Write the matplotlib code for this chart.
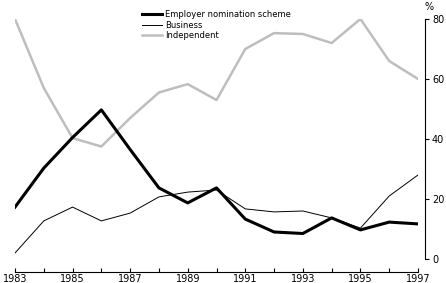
import matplotlib.pyplot as plt
import numpy as np

years = np.arange(1983, 1998)
employer = [17.3, 30.3, 40.5, 49.7, 36.5, 23.7, 18.7, 23.7, 13.3, 9.0, 8.5, 13.7, 9.7, 12.3, 11.7]
business = [2.0, 12.7, 17.3, 12.7, 15.3, 20.7, 22.3, 23.0, 16.7, 15.7, 16.0, 13.7, 10.3, 21.0, 28.0]
independent = [80.0, 57.0, 40.3, 37.5, 47.0, 55.5, 58.3, 53.0, 70.0, 75.3, 75.0, 72.0, 80.0, 66.0, 60.0]

grey = '#bebebe'
plt.rcParams['font.family'] = 'DejaVu Sans'

fig = plt.figure(figsize=(4.46, 2.83), dpi=100)
ax = fig.add_axes([15 / 446, (283 - 259) / 283, 403 / 446, 240 / 283])

ax.plot(years, independent, color=grey, lw=1.8, label='Independent', zorder=1)
ax.plot(years, business, color='black', lw=0.7, label='Business', zorder=2)
ax.plot(years, employer, color='black', lw=2.2, label='Employer nomination scheme', zorder=3)

ax.set_xlim(1983, 1997)
ax.set_ylim(0, 80)

ax.spines['left'].set_visible(False)
ax.spines['top'].set_visible(False)
ax.spines['right'].set_position(('outward', 5))
ax.spines['bottom'].set_position(('outward', 9))
ax.spines['right'].set_linewidth(0.8)
ax.spines['bottom'].set_linewidth(0.8)

ax.yaxis.tick_right()
ax.set_yticks([0, 20, 40, 60, 80])
ax.tick_params(axis='y', direction='out', length=3, width=0.8, labelsize=7, pad=2)
ax.set_xticks(years[::2])
ax.set_xticks(years, minor=True)
ax.tick_params(axis='x', which='both', direction='in', length=3, width=0.8, labelsize=7, pad=2)
ax.text(1.028, 1.03, '%', transform=ax.transAxes, fontsize=7, ha='center', va='bottom')

handles, labels = ax.get_legend_handles_labels()
order = [2, 1, 0]
ax.legend([handles[i] for i in order], [labels[i] for i in order],
          loc='upper left', bbox_to_anchor=(0.307, 1.05), frameon=False,
          fontsize=6, handlelength=2.4, handletextpad=0.4, labelspacing=0.15,
          borderaxespad=0)

fig.savefig('out.png', dpi=100)
